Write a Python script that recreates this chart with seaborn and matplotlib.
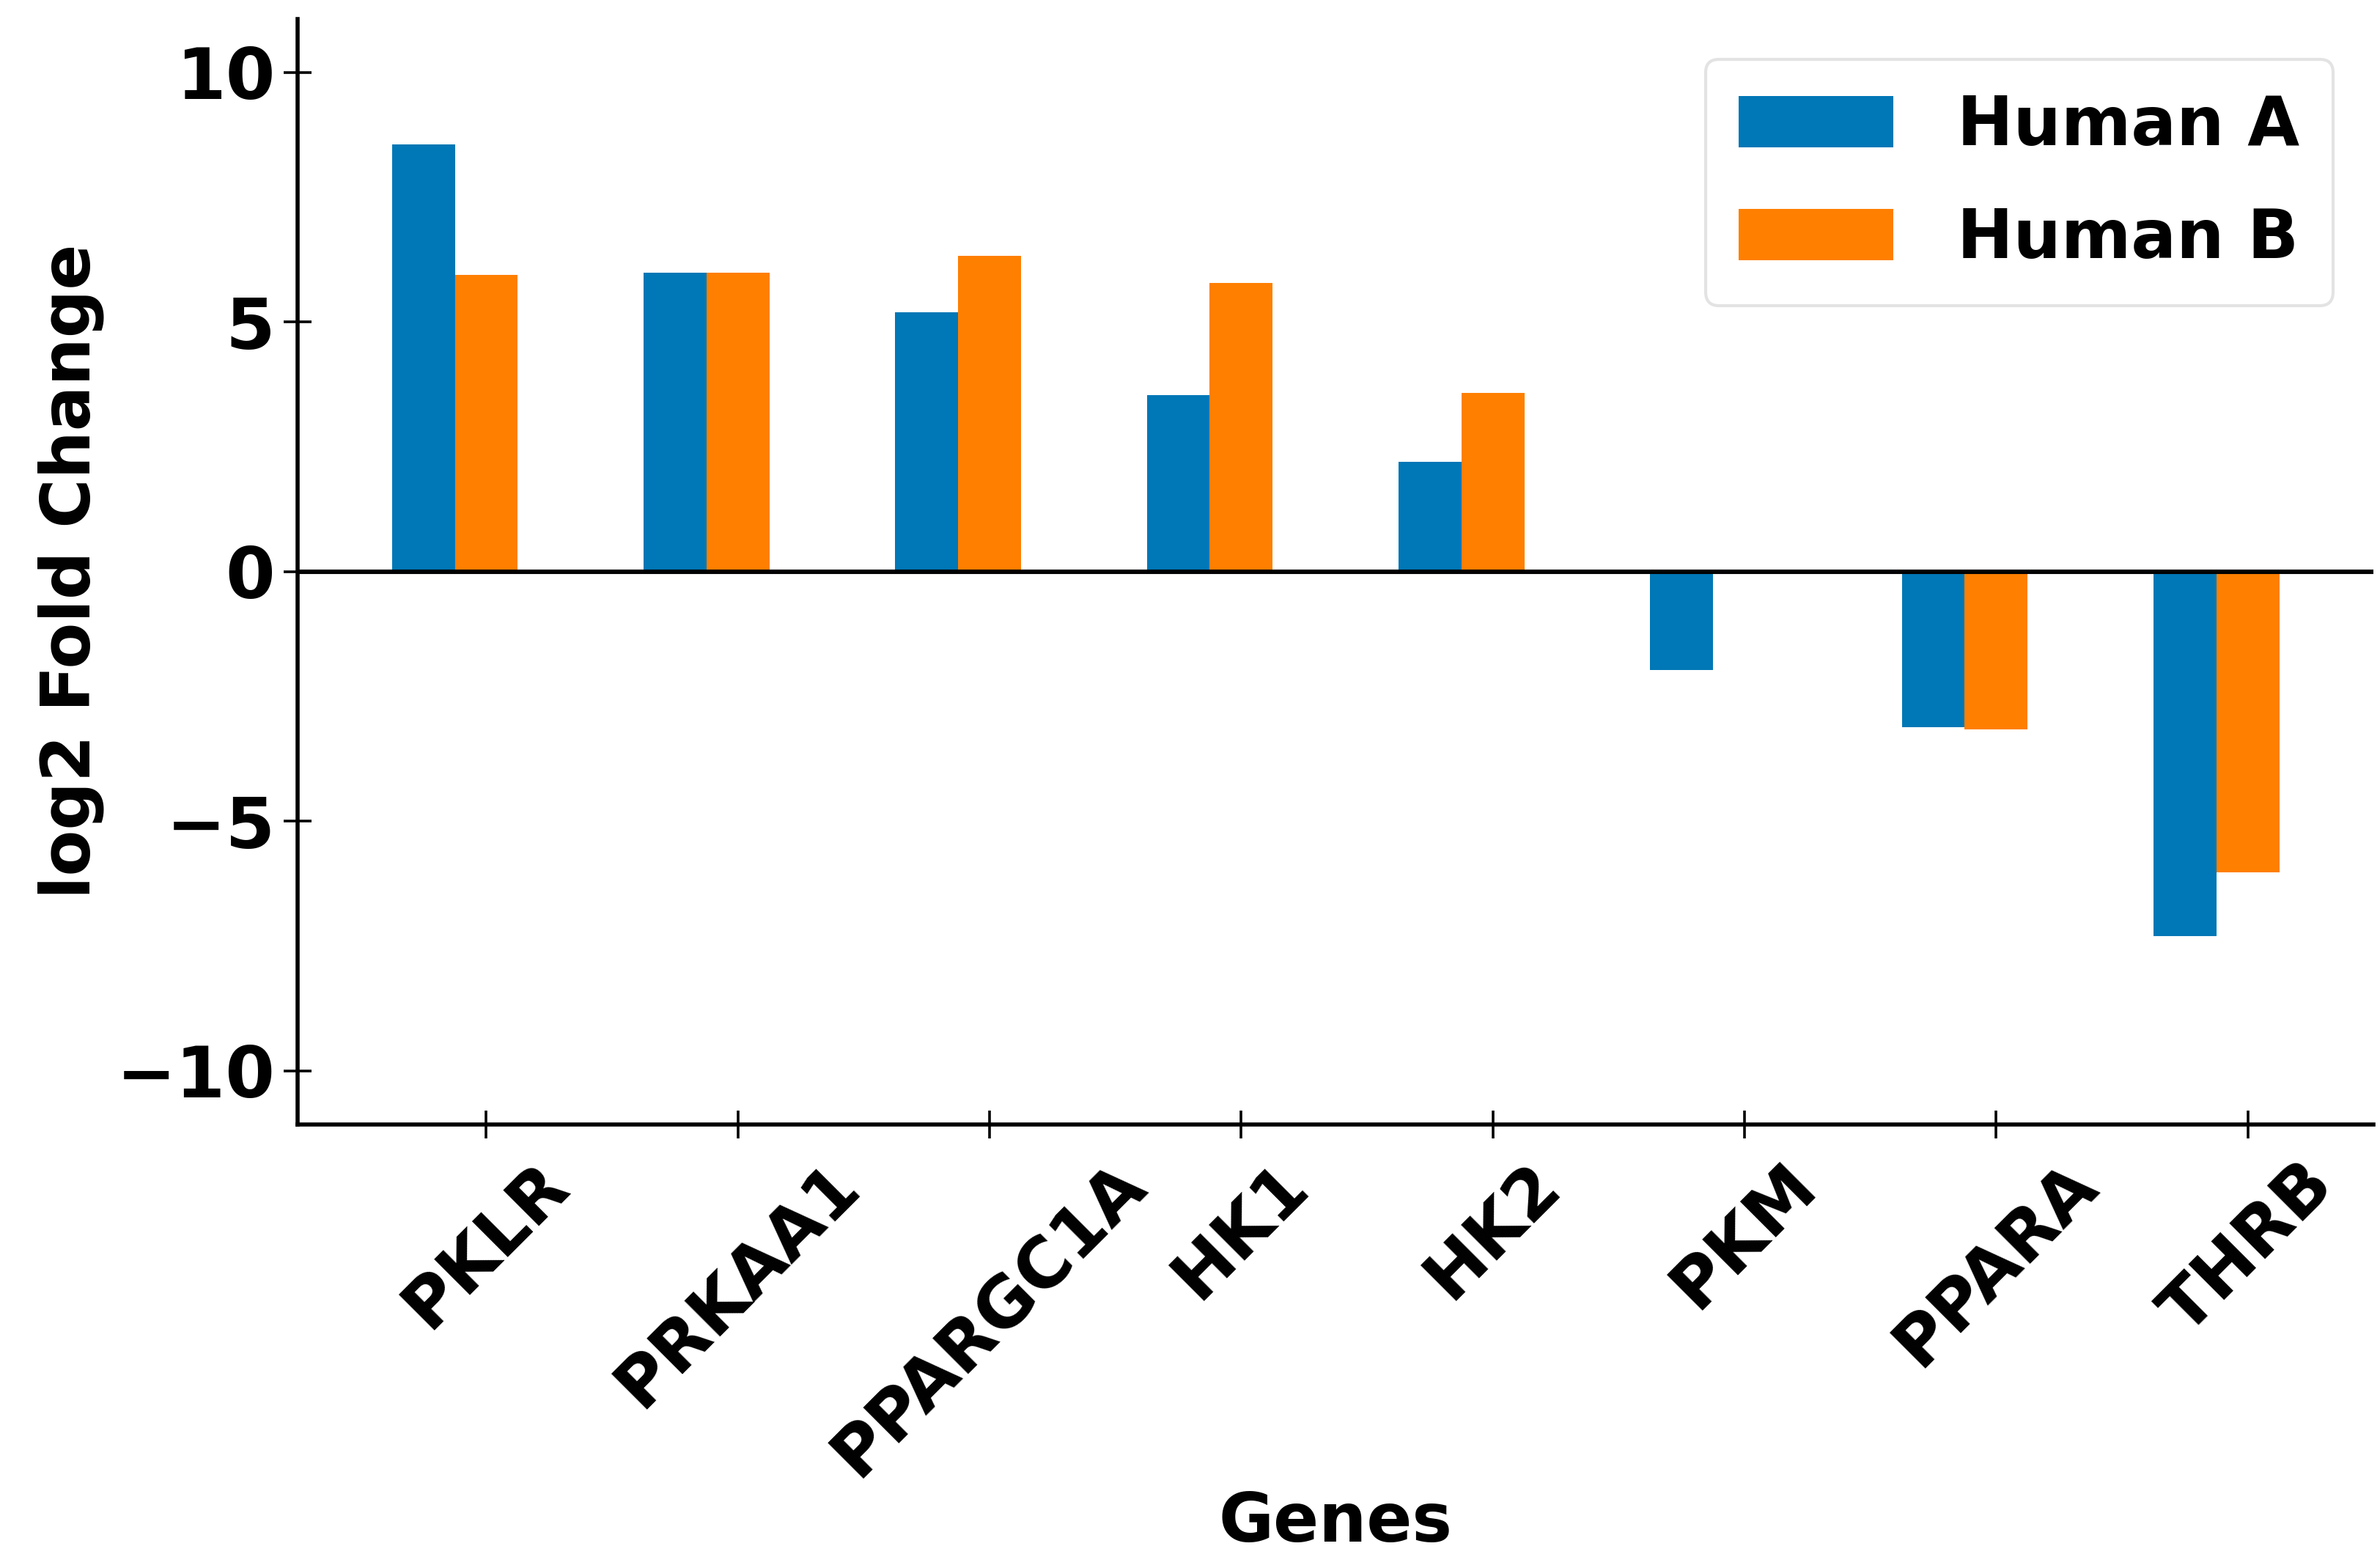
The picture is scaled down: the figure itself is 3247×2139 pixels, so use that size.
import matplotlib
matplotlib.use("Agg")
import matplotlib.pyplot as plt
import seaborn as sns
import pandas as pd

genes = ["PKLR", "PRKAA1", "PPARGC1A", "HK1", "HK2", "PKM", "PPARA", "THRB"]
human_a = [8.55, 5.98, 5.19, 3.54, 2.20, -1.97, -3.12, -7.30]
human_b = [5.94, 5.98, 6.33, 5.78, 3.58, 0.0, -3.16, -6.03]
series_names = ["Human A", "Human B"]
colors = ["#0077B6", "#FF7F00"]

df = pd.DataFrame({
    "Genes": genes * 2,
    "value": human_a + human_b,
    "Sample": [series_names[0]] * len(genes) + [series_names[1]] * len(genes),
})

sns.set_style("white")
plt.rcParams["font.family"] = ["DejaVu Sans"]
plt.rcParams["font.weight"] = "bold"
plt.rcParams["axes.labelweight"] = "bold"
plt.rcParams["text.color"] = "black"
plt.rcParams["axes.labelcolor"] = "black"
plt.rcParams["xtick.color"] = "black"
plt.rcParams["ytick.color"] = "black"
plt.rcParams["xtick.bottom"] = True
plt.rcParams["ytick.left"] = True

group_width = 0.5
bar_w = group_width / len(series_names)

fig = plt.figure(figsize=(16.24, 10.695), dpi=200)
ax = fig.add_axes([0.125, 0.283, 0.872, 0.705])

sns.barplot(data=df, x="Genes", y="value", hue="Sample", order=genes,
            hue_order=series_names, palette=colors, width=group_width,
            saturation=1, ax=ax, linewidth=0, errorbar=None)

ax.axhline(0, color="black", linewidth=2.2, zorder=3)
ax.set_xlim(-0.625, len(genes) - 1 + 0.625)
ax.set_ylim(-11.07, 11.07)
ax.set_yticks([-10, -5, 0, 5, 10])
ax.set_xticks([i + bar_w / 2 for i in range(len(genes))])
ax.set_xticklabels(genes)

sns.despine(ax=ax)
for s in ["left", "bottom"]:
    ax.spines[s].set_linewidth(2.0)
    ax.spines[s].set_color("black")

ax.tick_params(axis="both", direction="inout", length=14, width=1.3, color="black")
ax.tick_params(axis="y", labelsize=35, pad=4, labelcolor="black")
ax.tick_params(axis="x", labelsize=34, pad=6, labelcolor="black")
for lbl in ax.get_xticklabels():
    lbl.set_rotation(45)
    lbl.set_ha("center")
    lbl.set_fontweight("bold")
for lbl in ax.get_yticklabels():
    lbl.set_fontweight("bold")

ax.set_xlabel("Genes", fontsize=33, fontweight="bold", labelpad=0, color="black")
ax.set_ylabel("log2 Fold Change", fontsize=33, fontweight="bold", labelpad=6, color="black")

leg = ax.legend(loc="upper right", frameon=True, fancybox=True,
                handlelength=2.3, handleheight=0.8, handletextpad=0.95,
                labelspacing=0.7, borderpad=0.5, borderaxespad=0.6,
                prop={"weight": "bold", "size": 33})
leg.get_frame().set_edgecolor("#DDDDDD")
leg.get_frame().set_linewidth(1.5)
for t in leg.get_texts():
    t.set_color("black")

fig.savefig("out.png", dpi=200)
